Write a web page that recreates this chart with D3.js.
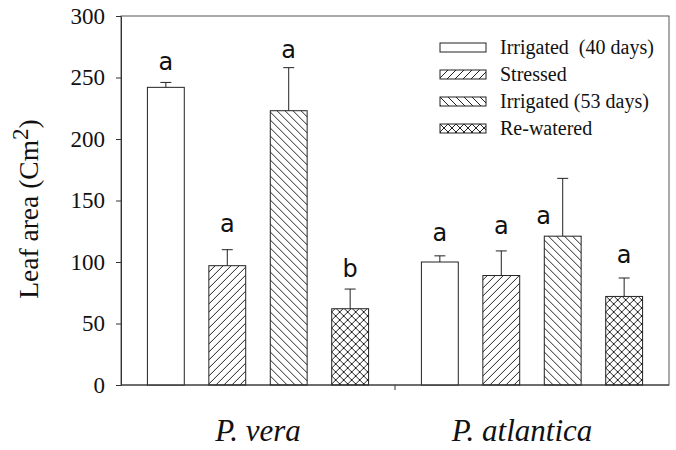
<!DOCTYPE html>
<html>
<head>
<meta charset="utf-8">
<script src="https://cdn.jsdelivr.net/npm/d3@7"></script>
<style>
  body { margin: 0; background: #fff; }
  svg text { white-space: pre; }
</style>
</head>
<body>
<div id="chart"></div>
<script>
//// Data
const species = ["P. vera", "P. atlantica"]
const treatments = ["Irrigated  (40 days)", "Stressed", "Irrigated (53 days)", "Re-watered"]
const vera_means = [242, 97, 223, 62]
const vera_errors = [4, 13, 35, 16]
const atlantica_means = [100, 89, 121, 72]
const atlantica_errors = [5, 20, 47, 15]
const vera_letters = ["a", "a", "a", "b"]
const atlantica_letters = ["a", "a", "a", "a"]
// height (in leaf area units) where each significance letter sits
const vera_letter_at = [256, 124, 266, 88]
const atlantica_letter_at = [117, 123, 131, 99]
const y_ticks = [0, 50, 100, 150, 200, 250, 300]

const SERIF = "'Liberation Serif', 'Times New Roman', serif"
const fills = ["white", "url(#hatch-up)", "url(#hatch-down)", "url(#cross)"]
// the letter above the 3rd atlantica bar sits left of centre in the original
const letter_nudge = {"P. atlantica-2": -19}

// build rows for drawing
var rows = []
species.forEach((sp, i) => {
    var means = i === 0 ? vera_means : atlantica_means
    var errors = i === 0 ? vera_errors : atlantica_errors
    var letters = i === 0 ? vera_letters : atlantica_letters
    var letter_at = i === 0 ? vera_letter_at : atlantica_letter_at
    treatments.forEach((t, j) => {
        rows.push({species: sp, treatment: t, mean: means[j], err: errors[j],
                   letter: letters[j], letter_at: letter_at[j], k: j})
    })
})

//// Dimensions
const W = 676, H = 450
var margin = {top: 16, right: 7, bottom: 65, left: 121}
var width = W - margin.left - margin.right
var height = H - margin.top - margin.bottom

var svg = d3.select("#chart")
    .append("svg")
        .attr("width", W)
        .attr("height", H)

// hatch patterns
var defs = svg.append("defs")
function add_pattern(id, d, size) {
    defs.append("pattern")
        .attr("id", id)
        .attr("patternUnits", "userSpaceOnUse")
        .attr("width", size)
        .attr("height", size)
        .append("path")
            .attr("d", d)
            .attr("stroke", "#222")
            .attr("stroke-width", 1)
            .attr("fill", "none")
}
var s = 8
add_pattern("hatch-up", `M0,${s} L${s},0 M-1,1 L1,-1 M${s-1},${s+1} L${s+1},${s-1}`, s)
add_pattern("hatch-down", `M0,0 L${s},${s} M-1,${s-1} L1,${s+1} M${s-1},-1 L${s+1},1`, s)
add_pattern("cross", `M0,${s} L${s},0 M-1,1 L1,-1 M${s-1},${s+1} L${s+1},${s-1} M0,0 L${s},${s} M-1,${s-1} L1,${s+1} M${s-1},-1 L${s+1},1`, s)

var g = svg.append("g")
    .attr("transform", "translate(" + margin.left + "," + margin.top + ")")

//// Scales
var x0 = d3.scaleBand()
    .domain(species)
    .range([0, width])
    .padding(0)

var x1 = d3.scaleBand()
    .domain(d3.range(treatments.length))
    .range([0, x0.bandwidth()])
    .paddingInner(0.4)
    .paddingOuter(0.43)

var y = d3.scaleLinear()
    .domain([0, 300])
    .range([height, 0])

// frame (top and right)
g.append("rect")
    .attr("x", 0)
    .attr("y", 0)
    .attr("width", width)
    .attr("height", height)
    .attr("fill", "none")
    .attr("stroke", "#555")
    .attr("stroke-width", 1)

//// Bars
var bars = g.append("g")
    .selectAll("g")
        .data(rows)
        .enter()
        .append("g")
            .attr("transform", d => "translate(" + (x0(d.species) + x1(d.k)) + ",0)")

bars.append("rect")
    .attr("x", 0)
    .attr("y", d => y(d.mean))
    .attr("width", x1.bandwidth())
    .attr("height", d => y(0) - y(d.mean))
    .attr("fill", d => fills[d.k])
    .attr("stroke", "#222")
    .attr("stroke-width", 1)

// error bars (upper only)
var cap = 11
bars.append("line")
    .attr("x1", x1.bandwidth() / 2)
    .attr("x2", x1.bandwidth() / 2)
    .attr("y1", d => y(d.mean))
    .attr("y2", d => y(d.mean + d.err))
    .attr("stroke", "#222")
bars.append("line")
    .attr("x1", x1.bandwidth() / 2 - cap / 2)
    .attr("x2", x1.bandwidth() / 2 + cap / 2)
    .attr("y1", d => y(d.mean + d.err))
    .attr("y2", d => y(d.mean + d.err))
    .attr("stroke", "#222")

// significance letters
bars.append("text")
    .attr("x", d => x1.bandwidth() / 2 + (letter_nudge[d.species + "-" + d.k] || 0))
    .attr("y", d => y(d.letter_at))
    .attr("text-anchor", "middle")
    .style("font-family", "'DejaVu Sans', sans-serif")
    .style("font-size", "24px")
    .style("fill", "#111")
    .text(d => d.letter)

//// Axes
var y_axis = g.append("g")
    .call(d3.axisLeft(y).tickValues(y_ticks).tickSize(5).tickPadding(11).tickSizeOuter(0))
y_axis.select(".domain").attr("stroke", "#333")
y_axis.selectAll(".tick line").attr("stroke", "#333")
y_axis.selectAll("text")
    .style("font-family", SERIF)
    .style("font-size", "23px")
    .style("fill", "#111")

// bottom axis: single tick between species groups
var x_axis = g.append("g")
    .attr("transform", "translate(0," + height + ")")
x_axis.append("line")
    .attr("x1", 0)
    .attr("x2", width)
    .attr("stroke", "#333")
x_axis.append("line")
    .attr("x1", x0(species[1]))
    .attr("x2", x0(species[1]))
    .attr("y1", 0)
    .attr("y2", 5)
    .attr("stroke", "#333")

// species labels
var label_shift = [0, -10]
g.append("g")
    .selectAll("text")
        .data(species)
        .enter()
        .append("text")
            .attr("x", (d, i) => x0(d) + x0.bandwidth() / 2 + label_shift[i])
            .attr("y", height + 56)
            .attr("text-anchor", "middle")
            .style("font-family", SERIF)
            .style("font-style", "italic")
            .style("font-size", "31px")
            .style("fill", "#111")
            .text(d => d)

// Y axis title
var y_title = svg.append("text")
    .attr("transform", "translate(38,209) rotate(-90)")
    .attr("text-anchor", "middle")
    .style("font-family", SERIF)
    .style("font-size", "27.5px")
    .style("fill", "#111")
y_title.append("tspan").text("Leaf area (Cm")
y_title.append("tspan").attr("dy", -10).style("font-size", "23px").text("2")
y_title.append("tspan").attr("dy", 10).text(")")

//// Legend
var legend = svg.append("g")
    .attr("transform", "translate(440,43)")
var legend_rows = legend.selectAll("g")
    .data(treatments)
    .enter()
    .append("g")
        .attr("transform", (d, i) => "translate(0," + (i * 27) + ")")
legend_rows.append("rect")
    .attr("width", 46)
    .attr("height", 9)
    .attr("fill", (d, i) => fills[i])
    .attr("stroke", "#222")
    .attr("stroke-width", 1)
legend_rows.append("text")
    .attr("x", 60)
    .attr("y", 11)
    .style("font-family", SERIF)
    .style("font-size", "20px")
    .style("fill", "#111")
    .text(d => d)
</script>
</body>
</html>
